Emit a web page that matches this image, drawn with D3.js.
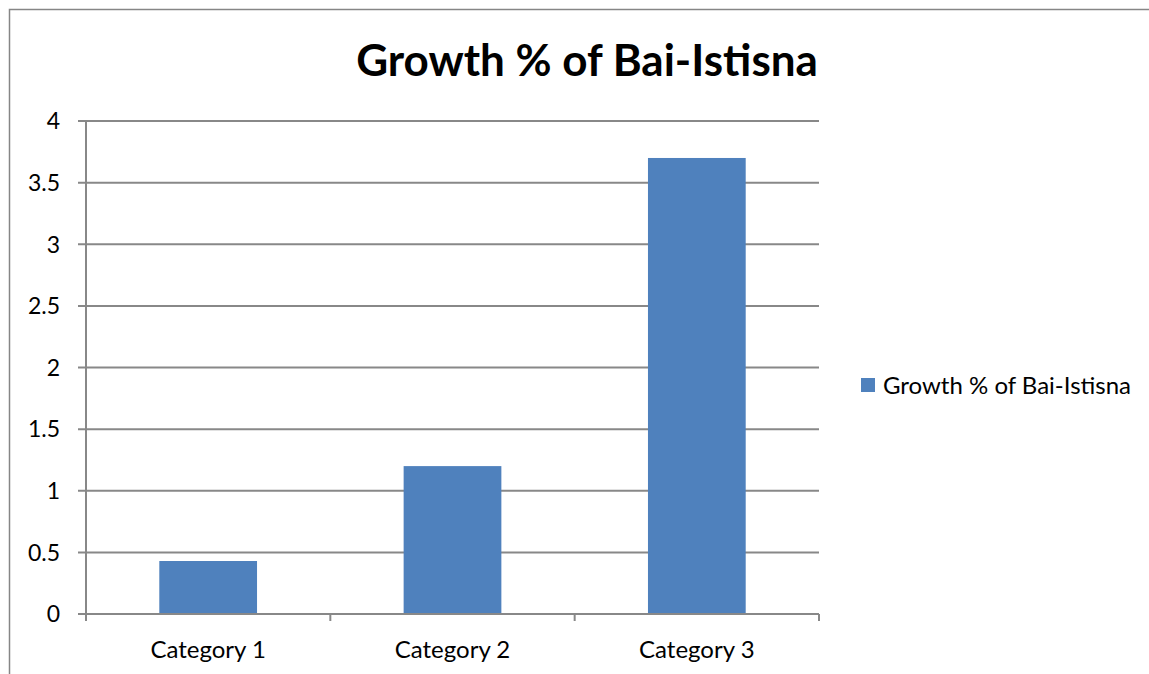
<!DOCTYPE html>
<html>
<head>
<meta charset="utf-8">
<script src="https://cdn.jsdelivr.net/npm/d3@7"></script>
<style>
  body { margin: 0; background: #fff; }
  text { font-family: Lato, "Open Sans", sans-serif; }
</style>
</head>
<body>
<div id="chart"></div>
<script>
const categories = ['Category 1', 'Category 2', 'Category 3'];
const values = [0.43, 1.2, 3.7];
const yTicks = [0, 0.5, 1, 1.5, 2, 2.5, 3, 3.5, 4];
const seriesName = 'Growth % of Bai-Istisna';
const title = 'Growth % of Bai-Istisna';

const W = 1149, H = 674;
const margin = { top: 121, right: 330, bottom: 60, left: 86 };
const plotW = 819 - margin.left;
const plotH = 614 - margin.top;

const svg = d3.select('#chart').append('svg')
  .attr('width', W)
  .attr('height', H);

// outer frame (only left + top visible in reference)
svg.append('rect')
  .attr('x', 9.5).attr('y', 9.5)
  .attr('width', W + 20).attr('height', H + 20)
  .attr('fill', 'none')
  .attr('stroke', '#868686')
  .attr('stroke-width', 1.5);

const g = svg.append('g')
  .attr('transform', `translate(${margin.left},${margin.top})`);

const x = d3.scaleBand()
  .domain(categories)
  .range([0, plotW])
  .paddingInner(0.6)
  .paddingOuter(0.3);

const y = d3.scaleLinear()
  .domain([0, 4])
  .range([plotH, 0]);

// gridlines
g.selectAll('line.grid')
  .data(yTicks)
  .enter().append('line')
  .attr('class', 'grid')
  .attr('x1', -8)
  .attr('x2', plotW)
  .attr('y1', d => y(d))
  .attr('y2', d => y(d))
  .attr('stroke', '#888')
  .attr('stroke-width', 2);

// y tick labels
g.selectAll('text.ylab')
  .data(yTicks)
  .enter().append('text')
  .attr('class', 'ylab')
  .attr('x', -26)
  .attr('y', d => y(d))
  .attr('dy', '0.36em')
  .attr('text-anchor', 'end')
  .attr('font-size', '23px')
  .attr('fill', '#000')
  .text(d => d);

// bars
g.selectAll('rect.bar')
  .data(values)
  .enter().append('rect')
  .attr('class', 'bar')
  .attr('x', (d, i) => x(categories[i]))
  .attr('width', x.bandwidth())
  .attr('y', d => y(d))
  .attr('height', d => plotH - y(d))
  .attr('fill', '#4f81bd');

// y axis line
g.append('line')
  .attr('x1', 0).attr('x2', 0)
  .attr('y1', 0).attr('y2', plotH + 7)
  .attr('stroke', '#888')
  .attr('stroke-width', 2);

// x axis line + ticks at category boundaries
g.append('line')
  .attr('x1', 0).attr('x2', plotW)
  .attr('y1', plotH).attr('y2', plotH)
  .attr('stroke', '#888')
  .attr('stroke-width', 2);

const step = plotW / categories.length;
g.selectAll('line.xtick')
  .data(d3.range(categories.length + 1))
  .enter().append('line')
  .attr('class', 'xtick')
  .attr('x1', d => d * step)
  .attr('x2', d => d * step)
  .attr('y1', plotH)
  .attr('y2', plotH + 7)
  .attr('stroke', '#888')
  .attr('stroke-width', 2);

// x labels
g.selectAll('text.xlab')
  .data(categories)
  .enter().append('text')
  .attr('class', 'xlab')
  .attr('x', d => x(d) + x.bandwidth() / 2)
  .attr('y', plotH + 44)
  .attr('text-anchor', 'middle')
  .attr('font-size', '24px')
  .attr('fill', '#000')
  .text(d => d);

// title
svg.append('text')
  .attr('x', 587)
  .attr('y', 76)
  .attr('text-anchor', 'middle')
  .attr('font-size', '44px')
  .attr('font-weight', 'bold')
  .attr('fill', '#000')
  .text(title);

// legend
const lg = svg.append('g').attr('transform', 'translate(861,378)');
lg.append('rect')
  .attr('width', 14).attr('height', 14)
  .attr('fill', '#4f81bd');
lg.append('text')
  .attr('x', 22)
  .attr('y', 7)
  .attr('dy', '0.36em')
  .attr('font-size', '24px')
  .attr('fill', '#000')
  .text(seriesName);
</script>
</body>
</html>
